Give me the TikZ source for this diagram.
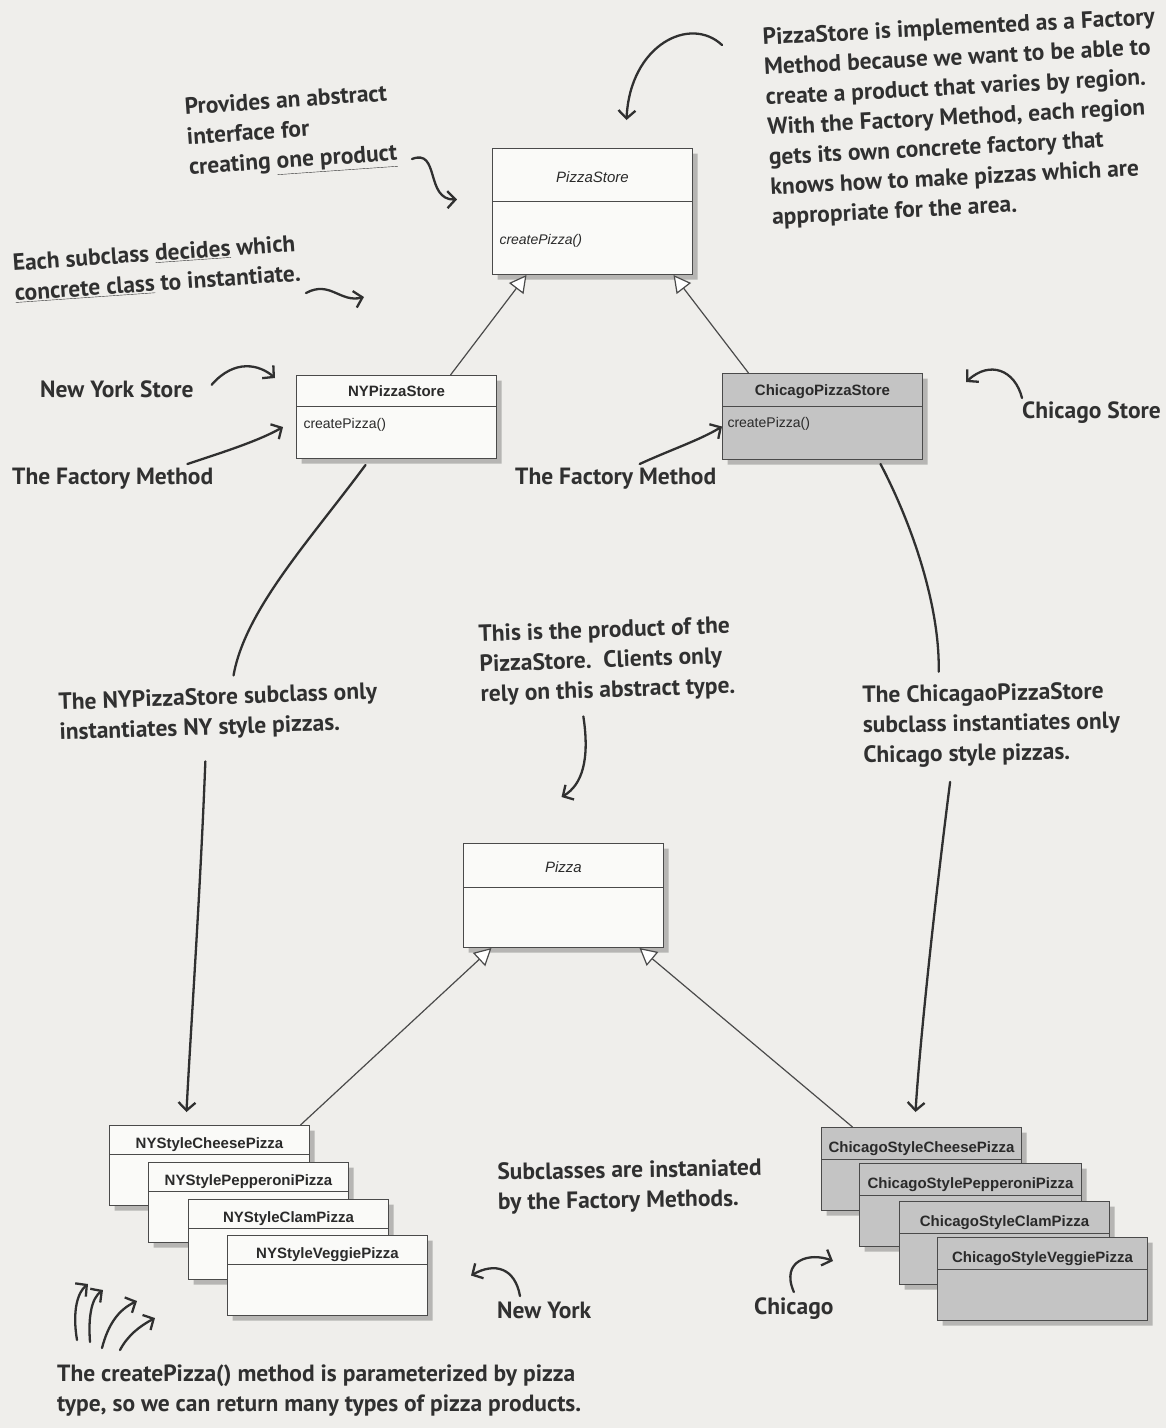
\documentclass[tikz,border=0pt]{standalone}
\usepackage{fontspec}
\setmainfont{PT Sans}
\newfontfamily\handfont{PT Sans Bold}
\newfontfamily\umlfont{Liberation Sans}
\usetikzlibrary{arrows.meta,shapes.multipart,shadows}
\definecolor{paper}{HTML}{EFEEEB}
\definecolor{ink}{HTML}{303030}
\definecolor{boxline}{HTML}{4A4A4A}
\definecolor{boxfill}{HTML}{FAFAF8}
\definecolor{chifill}{HTML}{C4C4C4}
\definecolor{boxtext}{HTML}{2A2A2A}
% one row of a class box: height above baseline, room below it, text
\newcommand{\rowsz}[3]{\raisebox{#2}[\dimexpr#1+#2\relax][0pt]{#3}}

\begin{document}
\begin{tikzpicture}[x=1pt,y=-1pt,
  cls/.style={rectangle split,rectangle split parts=2,draw=boxline,line width=1pt,
    fill=boxfill,drop shadow={shadow xshift=5pt,shadow yshift=-5pt,fill=black!70,opacity=0.35},
    anchor=north west,inner xsep=7pt,inner ysep=0pt,text width=186pt,align=center,
    font=\umlfont\fontsize{15}{18}\selectfont\bfseries,text=boxtext,
    rectangle split empty part height=50pt},
  chi/.style={cls,fill=chifill,inner xsep=5pt,rectangle split empty part height=47pt},
  nb/.style={font=\handfont\fontsize{23.5}{30}\selectfont,text=ink,align=left,
    anchor=north west,inner sep=0pt},
  hand/.style={draw=ink,line width=2.3pt,line cap=round},
  ha/.style={hand,-{Straight Barb[length=8pt,width=17pt]}},
  inh/.style={draw=boxline,line width=1.2pt,-{Triangle[fill=white,length=17pt,width=18pt]}}
]
\fill[paper] (0,0) rectangle (1166,1428);
\useasboundingbox (0,0) rectangle (1166,1428);

% creators
\node[cls] (ps) at (492,148) {\rowsz{33pt}{19pt}{\mdseries\itshape PizzaStore}
  \nodepart{two}\rowsz{42pt}{30pt}{\makebox[\hsize][l]{\mdseries\itshape\fontsize{14}{16}\selectfont createPizza()}}};
\node[cls] (nyps) at (296,375) {\rowsz{20pt}{10pt}{NYPizzaStore}
  \nodepart{two}\rowsz{21pt}{30pt}{\makebox[\hsize][l]{\mdseries\fontsize{14}{16}\selectfont createPizza()}}};
\node[chi,text width=190pt] (chps) at (722,373) {\rowsz{21pt}{11pt}{ChicagoPizzaStore}
  \nodepart{two}\rowsz{20pt}{32pt}{\makebox[\hsize][l]{\mdseries\fontsize{14}{16}\selectfont createPizza()}}};

% products
\node[cls,rectangle split empty part height=59pt] (pz) at (463,843) {\rowsz{28pt}{15pt}{\mdseries\itshape Pizza}};

\node[cls] (nycheese) at (109,1125) {\rowsz{22pt}{6pt}{NYStyleCheesePizza}};
\node[cls] (nypep) at (148,1162) {\rowsz{22pt}{6pt}{NYStylePepperoniPizza}};
\node[cls] (nyclam) at (188,1199) {\rowsz{22pt}{6pt}{NYStyleClamPizza}};
\node[cls] (nyveg) at (227,1235) {\rowsz{22pt}{6pt}{NYStyleVeggiePizza}};

\node[chi,text width=190pt] (chcheese) at (821,1127) {\rowsz{24pt}{7pt}{ChicagoStyleCheesePizza}};
\node[chi,text width=212pt] (chpep) at (859,1163) {\rowsz{24pt}{7pt}{ChicagoStylePepperoniPizza}};
\node[chi,text width=200pt] (chclam) at (899,1201) {\rowsz{24pt}{7pt}{ChicagoStyleClamPizza}};
\node[chi,text width=200pt] (chveg) at (937,1237) {\rowsz{24pt}{7pt}{ChicagoStyleVeggiePizza}};

\draw[inh] ([xshift=54pt]nyps.north) -- ([xshift=-66pt]ps.south);
\draw[inh] ([xshift=-74pt]chps.north) -- ([xshift=81pt]ps.south);
\draw[inh] ([xshift=91pt]nycheese.north) -- ([xshift=-72pt]pz.south);
\draw[inh] ([xshift=-69pt]chcheese.north) -- ([xshift=76pt]pz.south);

% handwritten notes
\node[nb,rotate=3] (psnote) at (762,28) {PizzaStore is implemented as a Factory\\Method because we want to be able to\\create a product that varies by region.\\With the Factory Method, each region\\gets its own concrete factory that\\knows how to make pizzas which are\\appropriate for the area.};
\node[nb,rotate=4] (abstr) at (184,98) {Provides an abstract\\interface for\\creating \underline{one product}};
\node[nb,rotate=4] (decide) at (12,254) {Each subclass \underline{decides} which\\\underline{concrete class} to instantiate.};
\node[nb] (nystore) at (40,381) {New York Store};
\node[nb] (fm1) at (12,468) {The Factory Method};
\node[nb] (fm2) at (515,468) {The Factory Method};
\node[nb] (chistore) at (1022,402) {Chicago Store};
\node[nb,rotate=2] (prod) at (478,625) {This is the product of the\\PizzaStore.\ \ Clients only\\rely on this abstract type.};
\node[nb,rotate=2] (nytxt) at (58,693) {The NYPizzaStore subclass only\\instantiates NY style pizzas.};
\node[nb,rotate=1] (chtxt) at (862,686) {The ChicagaoPizzaStore\\subclass instantiates only\\Chicago style pizzas.};
\node[nb,rotate=1] (subcl) at (497,1163) {Subclasses are instaniated\\by the Factory Methods.};
\node[nb] (nylbl) at (497,1302) {New York};
\node[nb] (chilbl) at (754,1298) {Chicago};
\node[nb] (param) at (57,1365) {The createPizza() method is parameterized by pizza\\type, so we can return many types of pizza products.};

% free ends of the scribbled arrows
\coordinate (a2) at (412,159);
\coordinate (a3) at (306,293);
\coordinate (a3e) at (364,297);
\coordinate (p1) at (77,1340);
\coordinate (p2) at (90,1342);
\coordinate (p3) at (102,1348);
\coordinate (p4) at (120,1350);
\coordinate (p1e) at (88,1284);
\coordinate (p2e) at (103,1290);
\coordinate (p3e) at (137,1301);
\coordinate (p4e) at (155,1318);

\draw[ha] ([xshift=-40pt,yshift=-17pt]psnote.north west) .. controls (690,15) and (630,45) .. ([xshift=34pt,yshift=28pt]ps.north);
\draw[ha] (a2) .. controls (440,148) and (425,200) .. ([xshift=-35pt,yshift=12pt]ps.west);
\draw[ha] (a3) .. controls (330,280) and (340,303) .. (a3e);
\draw[ha] ([xshift=18pt,yshift=5pt]nystore.east) .. controls (235,358) and (260,365) .. ([xshift=-21pt,yshift=-3pt]nyps.north west);
\draw[ha] ([xshift=-26pt,yshift=4pt]fm1.north east) .. controls (230,450) and (260,440) .. ([xshift=-13pt,yshift=-10pt]nyps.west);
\draw[ha] ([xshift=24pt,yshift=4pt]fm2.north) .. controls (670,450) and (700,440) .. ([yshift=-10pt]chps.west);
\draw[ha] ([yshift=4pt]chistore.north west) .. controls (1015,370) and (990,360) .. ([xshift=43pt,yshift=-9pt]chps.north east);
\draw[ha] ([xshift=-25pt,yshift=-14pt]prod.south) .. controls (590,760) and (582,785) .. ([xshift=-2pt,yshift=46pt]pz.north);
\draw[ha] ([xshift=23pt,yshift=6pt]nylbl.north west) .. controls (515,1268) and (495,1262) .. ([xshift=43pt]nyveg.east);
\draw[ha] ([yshift=6pt]chilbl.north) .. controls (780,1260) and (810,1252) .. ([xshift=-104pt,yshift=18pt]chveg.west);

% stores to their pizzas
\draw[hand] ([xshift=-31pt,yshift=-6pt]nyps.south) .. controls (310,540) and (245,610) .. ([xshift=16pt,yshift=12pt]nytxt.north);
\draw[ha] ([xshift=-14pt,yshift=-22pt]nytxt.south) .. controls (200,900) and (190,1040) .. ([xshift=-23pt,yshift=13pt]nycheese.north);
\draw[hand] ([xshift=58pt,yshift=-4pt]chps.south) .. controls (915,530) and (940,610) .. ([xshift=-52pt,yshift=12pt]chtxt.north);
\draw[ha] ([xshift=-42pt,yshift=-16pt]chtxt.south) .. controls (935,900) and (920,1040) .. ([xshift=-6pt,yshift=15pt]chcheese.north);

% createPizza() parameter
\draw[ha] (p1) .. controls (72,1310) and (78,1292) .. (p1e);
\draw[ha] (p2) .. controls (88,1315) and (92,1298) .. (p2e);
\draw[ha] (p3) .. controls (108,1325) and (118,1310) .. (p3e);
\draw[ha] (p4) .. controls (128,1335) and (140,1326) .. (p4e);
\end{tikzpicture}
\end{document}
